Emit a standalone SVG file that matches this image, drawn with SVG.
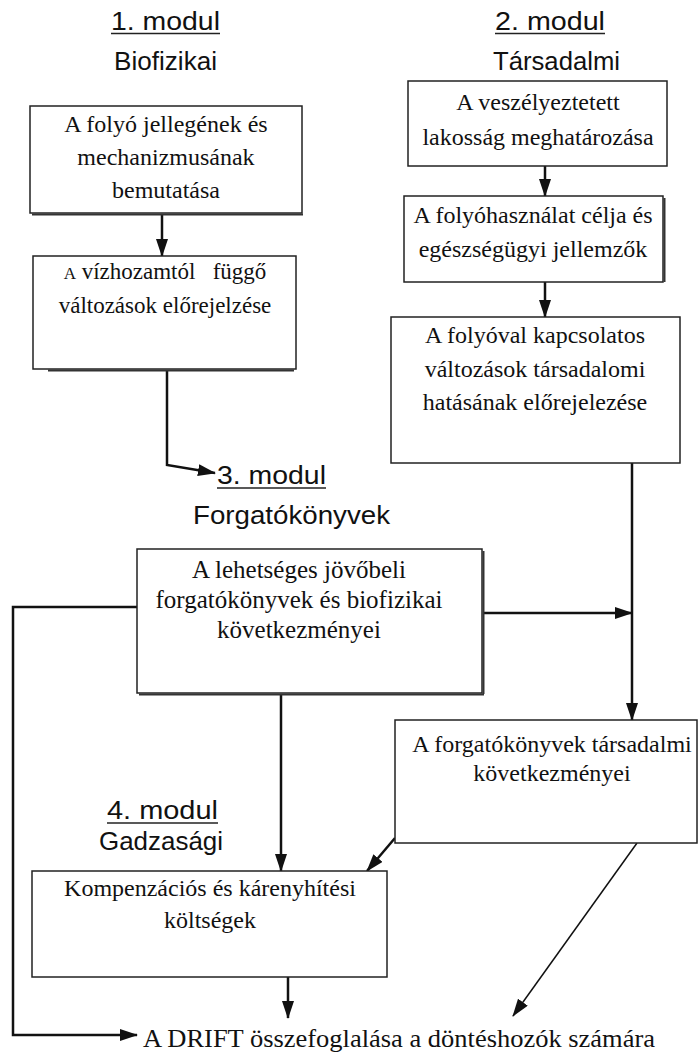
<svg xmlns="http://www.w3.org/2000/svg" width="698" height="1054" viewBox="0 0 698 1054">
<style>
.h{font-family:"Liberation Sans",Arial,sans-serif;font-size:26px;fill:#111;text-anchor:middle}
.t{font-family:"Liberation Serif","Times New Roman",serif;font-size:24px;fill:#111;text-anchor:middle}
.box{fill:#fff;stroke:#222;stroke-width:1.5}
.sh{stroke:#333;stroke-width:2;fill:none}
.ul{stroke:#222;stroke-width:1.5}
.c{fill:none;stroke:#111;stroke-width:2.5}
.ct{fill:none;stroke:#111;stroke-width:1.5}
</style>
<defs>
<marker id="ah" markerWidth="18" markerHeight="12" refX="17" refY="6" orient="auto" markerUnits="userSpaceOnUse">
<path d="M0,0 L18,6 L0,12 z" fill="#111"/>
</marker>
</defs>
<rect width="698" height="1054" fill="#fff"/>

<g id="headings">
<text class="h" x="165.5" y="30" textLength="109" lengthAdjust="spacingAndGlyphs">1. modul</text>
<line class="ul" x1="111" y1="33.5" x2="220" y2="33.5"/>
<text class="h" x="165.5" y="70" textLength="103" lengthAdjust="spacingAndGlyphs">Biofizikai</text>
<text class="h" x="550" y="30" textLength="110" lengthAdjust="spacingAndGlyphs">2. modul</text>
<line class="ul" x1="495" y1="33.5" x2="605" y2="33.5"/>
<text class="h" x="556.5" y="70" textLength="127" lengthAdjust="spacingAndGlyphs">Társadalmi</text>
<text class="h" x="271.5" y="484" textLength="109" lengthAdjust="spacingAndGlyphs">3. modul</text>
<line class="ul" x1="217" y1="488" x2="326" y2="488"/>
<text class="h" x="291.5" y="524" textLength="197" lengthAdjust="spacingAndGlyphs">Forgatókönyvek</text>
<text class="h" x="162.5" y="819" textLength="111" lengthAdjust="spacingAndGlyphs">4. modul</text>
<line class="ul" x1="107" y1="823" x2="218" y2="823"/>
<text class="h" x="161" y="850" textLength="124" lengthAdjust="spacingAndGlyphs">Gadzasági</text>
</g>

<g id="connectors">
<path class="c" d="M162,214 V256" marker-end="url(#ah)"/>
<path class="c" d="M167,370 V465 L215,473" marker-end="url(#ah)"/>
<path class="c" d="M545,166 V196" marker-end="url(#ah)"/>
<path class="c" d="M545,282 V317" marker-end="url(#ah)"/>
<path class="c" d="M632,463 V720" marker-end="url(#ah)"/>
<path class="c" d="M483,613 H632" marker-end="url(#ah)"/>
<path class="c" d="M137,607 H13 V1035 H137" marker-end="url(#ah)"/>
<path class="c" d="M281,694 V871" marker-end="url(#ah)"/>
<path class="c" d="M395,838 L367,871" marker-end="url(#ah)"/>
<path class="ct" d="M637,843 L513,1016" marker-end="url(#ah)"/>
<path class="c" d="M288,977 V1018" marker-end="url(#ah)"/>
</g>

<g id="n1">
<rect class="box" x="30" y="106" width="272" height="107"/>
<line class="sh" x1="32" y1="214.5" x2="303" y2="214.5"/>
<text class="t" x="166" y="132">A folyó jellegének és</text>
<text class="t" x="166" y="165">mechanizmusának</text>
<text class="t" x="166" y="198">bemutatása</text>
</g>

<g id="n2">
<rect class="box" x="33" y="256" width="263" height="113"/>
<line class="sh" x1="48" y1="370.5" x2="294" y2="370.5"/>
<text class="t" x="165" y="279" style="font-size:23px" xml:space="preserve"><tspan style="font-size:17px">A</tspan> vízhozamtól   függő</text>
<text class="t" x="165" y="313" style="font-size:23px">változások előrejelzése</text>
</g>

<g id="n2a">
<rect class="box" x="408" y="81" width="259" height="85"/>
<text class="t" x="538" y="110">A veszélyeztetett</text>
<text class="t" x="538" y="145">lakosság meghatározása</text>
</g>

<g id="n2b">
<rect class="box" x="404" y="196" width="259" height="86"/>
<line class="sh" x1="664.5" y1="198" x2="664.5" y2="282"/>
<text class="t" x="533" y="223">A folyóhasználat célja és</text>
<text class="t" x="533" y="257">egészségügyi jellemzők</text>
</g>

<g id="n2c">
<rect class="box" x="391" y="317" width="289" height="146"/>
<text class="t" x="535" y="343">A folyóval kapcsolatos</text>
<text class="t" x="535" y="377">változások társadalomi</text>
<text class="t" x="535" y="410">hatásának előrejelezése</text>
</g>

<g id="n3">
<rect class="box" x="137" y="549" width="345" height="144"/>
<line class="sh" x1="483.5" y1="551" x2="483.5" y2="694"/>
<line class="sh" x1="139" y1="694.5" x2="484" y2="694.5"/>
<text class="t" x="299" y="578" style="font-size:25px">A lehetséges jövőbeli</text>
<text class="t" x="299" y="608" style="font-size:25px">forgatókönyvek és biofizikai</text>
<text class="t" x="299" y="638" style="font-size:25px">következményei</text>
</g>

<g id="n5">
<rect class="box" x="395" y="720" width="302" height="123"/>
<text class="t" x="552" y="752">A forgatókönyvek társadalmi</text>
<text class="t" x="552" y="781">következményei</text>
</g>

<g id="n4">
<rect class="box" x="32" y="871" width="355" height="106"/>
<text class="t" x="210" y="896">Kompenzációs és kárenyhítési</text>
<text class="t" x="210" y="928">költségek</text>
</g>

<g id="n6">
<text class="t" x="399" y="1047" style="font-size:26px" textLength="512" lengthAdjust="spacingAndGlyphs">A DRIFT összefoglalása a döntéshozók számára</text>
</g>
</svg>
